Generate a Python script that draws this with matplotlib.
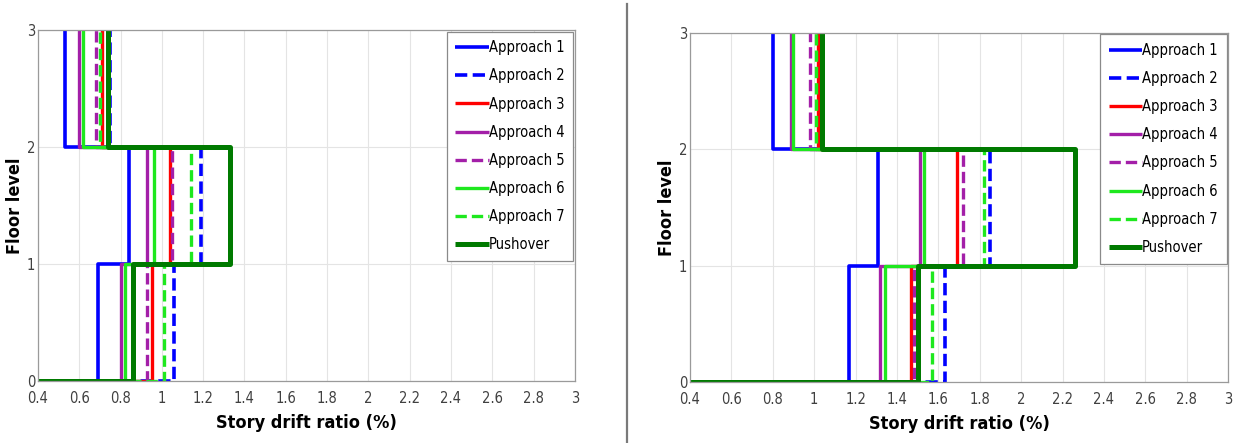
import matplotlib
matplotlib.use('Agg')
import matplotlib.pyplot as plt
from matplotlib.lines import Line2D
import numpy as np

# STORY DRIFT RATIOS (%) for storeys 1, 2, 3
labels = ['Approach 1', 'Approach 2', 'Approach 3', 'Approach 4',
          'Approach 5', 'Approach 6', 'Approach 7', 'Pushover']

left_drifts = [
    [0.69, 0.84, 0.53],   # Approach 1
    [1.06, 1.19, 0.75],   # Approach 2
    [0.95, 1.04, 0.71],   # Approach 3
    [0.80, 0.93, 0.60],   # Approach 4
    [0.93, 1.05, 0.68],   # Approach 5
    [0.82, 0.96, 0.62],   # Approach 6
    [1.01, 1.14, 0.70],   # Approach 7
    [0.86, 1.33, 0.74],   # Pushover
]

right_drifts = [
    [1.17, 1.31, 0.80],   # Approach 1
    [1.63, 1.85, 1.03],   # Approach 2
    [1.47, 1.69, 1.02],   # Approach 3
    [1.32, 1.51, 0.89],   # Approach 4
    [1.48, 1.72, 0.98],   # Approach 5
    [1.34, 1.53, 0.90],   # Approach 6
    [1.57, 1.82, 1.01],   # Approach 7
    [1.50, 2.26, 1.04],   # Pushover
]

x_ticks = [0.4, 0.6, 0.8, 1, 1.2, 1.4, 1.6, 1.8, 2, 2.2, 2.4, 2.6, 2.8, 3]
x_tick_labels = ['0.4', '0.6', '0.8', '1', '1.2', '1.4', '1.6', '1.8',
                 '2', '2.2', '2.4', '2.6', '2.8', '3']
floors = [0, 1, 2, 3]

# STYLES
colors = ['#0000ff', '#0000ff', '#ff0000', '#a31fa8',
          '#a31fa8', '#1ee81e', '#1ee81e', '#007a00']
dashed = [False, True, False, False, True, False, True, False]
widths = [2.6, 2.6, 2.4, 2.4, 2.4, 2.4, 2.4, 3.6]

TICK_FONT = dict(family='DejaVu Sans', stretch='condensed', size=10.5)


def _stairs(drifts):
    """Step profile: floor 0 -> 3, drift held constant over each storey."""
    xs = [0.0]
    ys = [0.0]
    for i, d in enumerate(drifts):
        xs += [d, d]
        ys += [floors[i], floors[i + 1]]
    return np.array(xs), np.array(ys)


def _panel(ax, data):
    for lab, d, c, dsh, lw in zip(labels, data, colors, dashed, widths):
        xs, ys = _stairs(d)
        ln, = ax.plot(xs, ys, color=c, lw=lw, label=lab,
                      solid_capstyle='butt', dash_capstyle='butt')
        if dsh:
            ln.set_dashes((3.4, 1.5))
    ax.set_xlim(0.4, 3)
    ax.set_ylim(0, 3)
    ax.set_xticks(x_ticks)
    ax.set_xticklabels(x_tick_labels, **TICK_FONT)
    ax.set_yticks(floors)
    ax.set_yticklabels([str(f) for f in floors], **TICK_FONT)
    ax.tick_params(axis='x', length=0, pad=7, colors='#404040')
    ax.tick_params(axis='y', length=0, pad=2, colors='#404040')
    ax.grid(True, color='#e4e4e4', lw=0.8)
    ax.set_axisbelow(True)
    for sp in ax.spines.values():
        sp.set_color('#9a9a9a')
        sp.set_linewidth(0.9)
    ax.set_xlabel('Story drift ratio (%)', fontsize=13, fontweight='bold',
                  family='DejaVu Sans', stretch='condensed', labelpad=6)
    ax.set_ylabel('Floor level', fontsize=13, fontweight='bold',
                  family='DejaVu Sans', stretch='condensed', labelpad=2)
    leg = ax.legend(loc='upper right', borderaxespad=0.1,
                    handlelength=2.3, handletextpad=0.0, labelspacing=0.9,
                    borderpad=0.6, fancybox=False, framealpha=1,
                    prop=dict(family='DejaVu Sans', stretch='condensed', size=10.5))
    leg.get_frame().set_edgecolor('#8a8a8a')
    leg.get_frame().set_linewidth(0.9)


fig = plt.figure(figsize=(12.37, 4.43), dpi=100)
ax1 = fig.add_axes([0.0307, 0.140, 0.434, 0.792])
ax2 = fig.add_axes([0.5578, 0.138, 0.435, 0.788])

_panel(ax1, left_drifts)
_panel(ax2, right_drifts)

# separator between the two panels
fig.add_artist(Line2D([627 / 1237, 627 / 1237], [0.0, 0.99],
                      transform=fig.transFigure, color='#7a7a7a', lw=1.6))

fig.savefig('out.png', dpi=100)
